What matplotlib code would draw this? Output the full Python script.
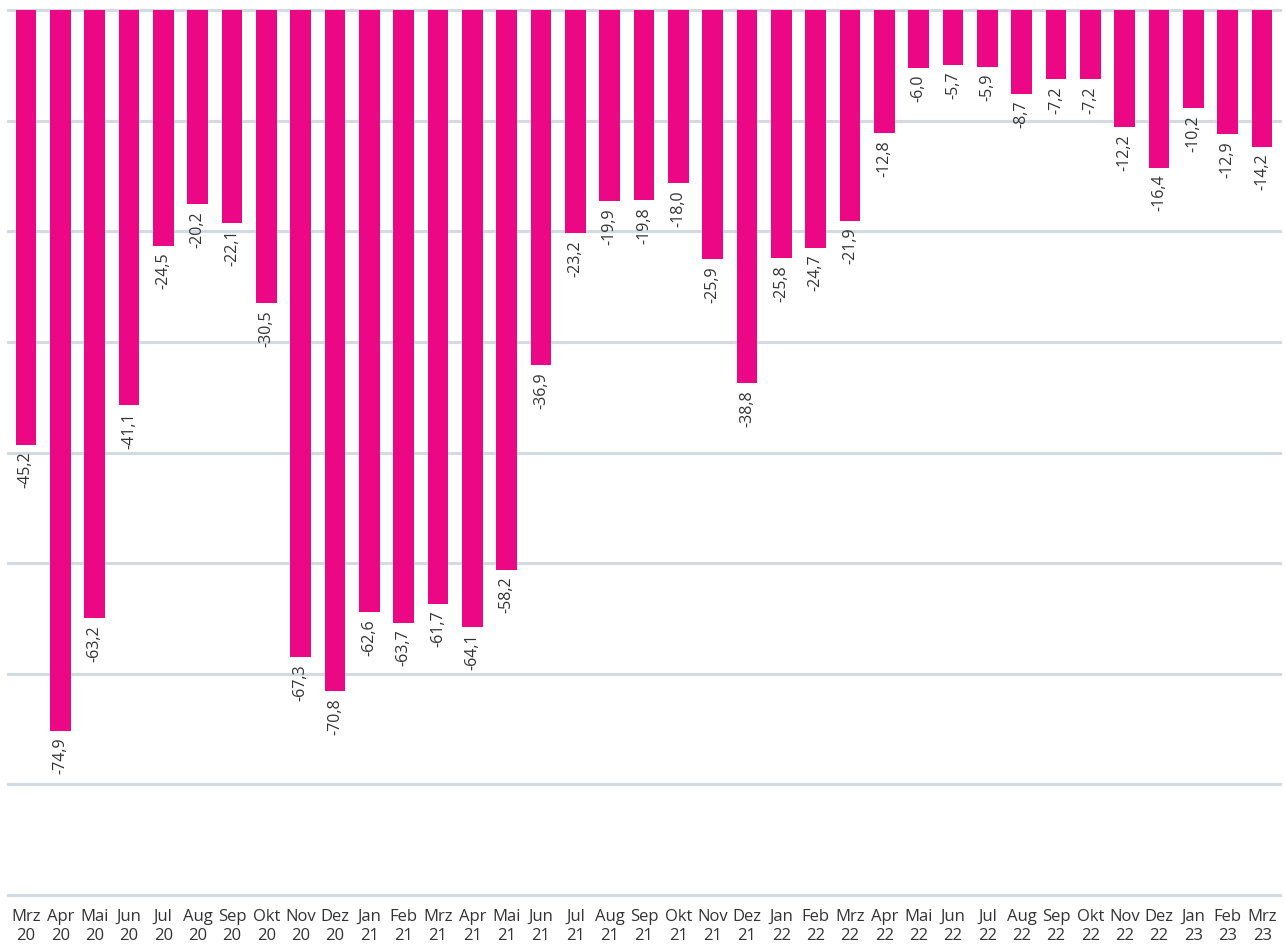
import matplotlib.pyplot as plt

plt.rcParams["font.family"] = ["Open Sans", "DejaVu Sans"]

MONTHS = ["Mrz", "Apr", "Mai", "Jun", "Jul", "Aug", "Sep", "Okt", "Nov", "Dez",
          "Jan", "Feb", "Mrz", "Apr", "Mai", "Jun", "Jul", "Aug", "Sep", "Okt",
          "Nov", "Dez", "Jan", "Feb", "Mrz", "Apr", "Mai", "Jun", "Jul", "Aug",
          "Sep", "Okt", "Nov", "Dez", "Jan", "Feb", "Mrz"]
YEARS = ["20"] * 10 + ["21"] * 12 + ["22"] * 12 + ["23"] * 3
VALUES = [-45.2, -74.9, -63.2, -41.1, -24.5, -20.2, -22.1, -30.5, -67.3, -70.8,
          -62.6, -63.7, -61.7, -64.1, -58.2, -36.9, -23.2, -19.9, -19.8, -18.0,
          -25.9, -38.8, -25.8, -24.7, -21.9, -12.8, -6.0, -5.7, -5.9, -8.7,
          -7.2, -7.2, -12.2, -16.4, -10.2, -12.9, -14.2]
GRID = [0, -11.5, -23, -34.5, -46, -57.5, -69, -80.5, -92]

BAR = "#EC0884"
GRID_C = "#D3DAE0"
TEXT = "#333333"

fig = plt.figure(figsize=(12.85, 9.52), dpi=100)
ax = fig.add_axes([8 / 1285, 1 - 895 / 952, 1272 / 1285, 885 / 952])

x = list(range(len(VALUES)))
for g in GRID:
    ax.axhline(g, color=GRID_C, lw=2.2, zorder=0, clip_on=False)
ax.bar(x, VALUES, width=0.6, color=BAR, zorder=2)

for xi, v in zip(x, VALUES):
    ax.annotate(f"{v:.1f}".replace(".", ","), (xi, v), xytext=(0, -5),
                textcoords="offset points", rotation=90, ha="center", va="top",
                fontsize=11.5, color=TEXT)

ax.set_xlim(-0.52, len(VALUES) - 0.48)
ax.set_ylim(-92, 0)
ax.set_xticks(x)
ax.set_xticklabels([f"{m}\n{y}" for m, y in zip(MONTHS, YEARS)],
                   fontsize=12, color=TEXT, linespacing=1.3)
ax.tick_params(axis="x", length=0, pad=10)
ax.set_yticks([])
for s in ax.spines.values():
    s.set_visible(False)

fig.savefig("out.png", dpi=100)
